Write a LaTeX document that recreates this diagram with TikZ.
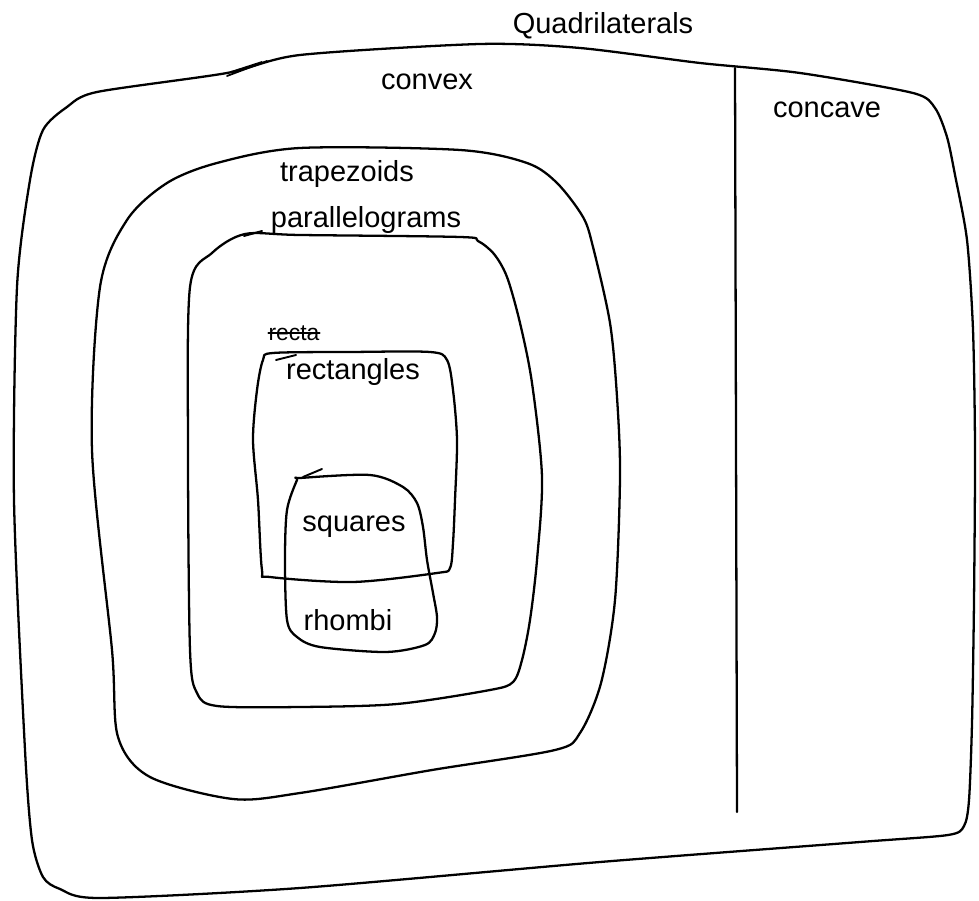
\documentclass[tikz,border=0pt]{standalone}
\usepackage{fontspec}
\setmainfont{Liberation Sans}
\begin{document}
\begin{tikzpicture}[x=0.02cm,y=-0.02cm, line join=round, line cap=round,
  region/.style={draw, line width=1.3pt},
  lbl/.style={font=\fontsize{16.5}{18}\selectfont, inner sep=0pt}]
\useasboundingbox (0,0) rectangle (979,901);

% outer region: quadrilaterals
\draw[region] plot[smooth cycle, tension=0.45] coordinates {
  (300,55) (480,44) (580,48) (700,63) (800,73) (913,93) (935,108) (947,137)
  (955,175) (967,240) (973,330) (975,450) (974,600) (972,723) (969,800)
  (964,826) (948,835) (860,842) (600,862) (300,888) (100,898) (60,889) (43,877) (32,840)
  (25,750) (14,500) (17,287) (30,180) (43,130) (67,107) (97,92) (227,73)};
% small stroke on top edge
\draw[line width=1pt] (227,76) -- (267,61) (231,72) -- (262,62);

% divider convex | concave
\coordinate (dtop) at (735,68);
\coordinate (dbot) at (737,812);
\draw[region] (dtop) -- (dbot);

% trapezoids
\draw[region] plot[smooth cycle, tension=0.5] coordinates {
  (300,148) (460,150) (527,163) (557,183) (583,217) (593,247) (610,323)
  (617,397) (620,477) (615,600) (601,683) (580,733) (555,750) (432,770)
  (300,793) (233,799) (150,777) (118,737) (112,650) (92,450) (100,287)
  (127,220) (167,183) (217,163)};

% parallelograms
\draw[region] plot[smooth cycle, tension=0.5] coordinates {
  (300,235) (460,237) (478,241) (494,254) (507,277) (520,323) (532,383) (542,477)
  (537,560) (530,620) (522,660) (513,682) (490,690) (397,704) (300,707)
  (217,706) (197,693) (190,650) (188,450) (190,287) (212,253) (245,234)};
\draw[line width=1.1pt] (244,236) -- (262,231);

% rectangles
\draw[region] plot[smooth cycle, tension=0.5] coordinates {
  (273,353) (350,352) (430,352) (447,360) (453,390) (457,440) (455,500)
  (453,543) (450,568) (437,573) (353,582) (270,577) (262,570) (258,500)
  (253,440) (257,390) (263,360)};
\draw[line width=1.1pt] (276,360) -- (296,355);

% squares / rhombi
\draw[region] plot[smooth cycle, tension=0.5] coordinates {
  (300,478) (370,475) (403,487) (417,503) (423,527) (427,560) (433,593)
  (437,617) (435,633) (425,645) (386,652) (320,647) (297,637) (287,620)
  (285,560) (287,510) (297,480)};
\draw[line width=1.1pt] (303,477) -- (322,469);

% labels
\node[lbl] (quad) at (603,26) {Quadrilaterals};
\node[lbl] (convex) at (427,82) {convex};
\node[lbl] (concave) at (827,110) {concave};
\node[lbl] (trap) at (347,174) {trapezoids};
\node[lbl] (para) at (366,220) {parallelograms};
\node[lbl, font=\fontsize{13}{15}\selectfont] (recta) at (294,333) {recta};
\draw[line width=1pt] (recta.west) -- (recta.east);
\node[lbl] (rect) at (353,372) {rectangles};
\node[lbl] (sq) at (354,527) {squares};
\node[lbl] (rh) at (348,620) {rhombi};
\end{tikzpicture}
\end{document}
